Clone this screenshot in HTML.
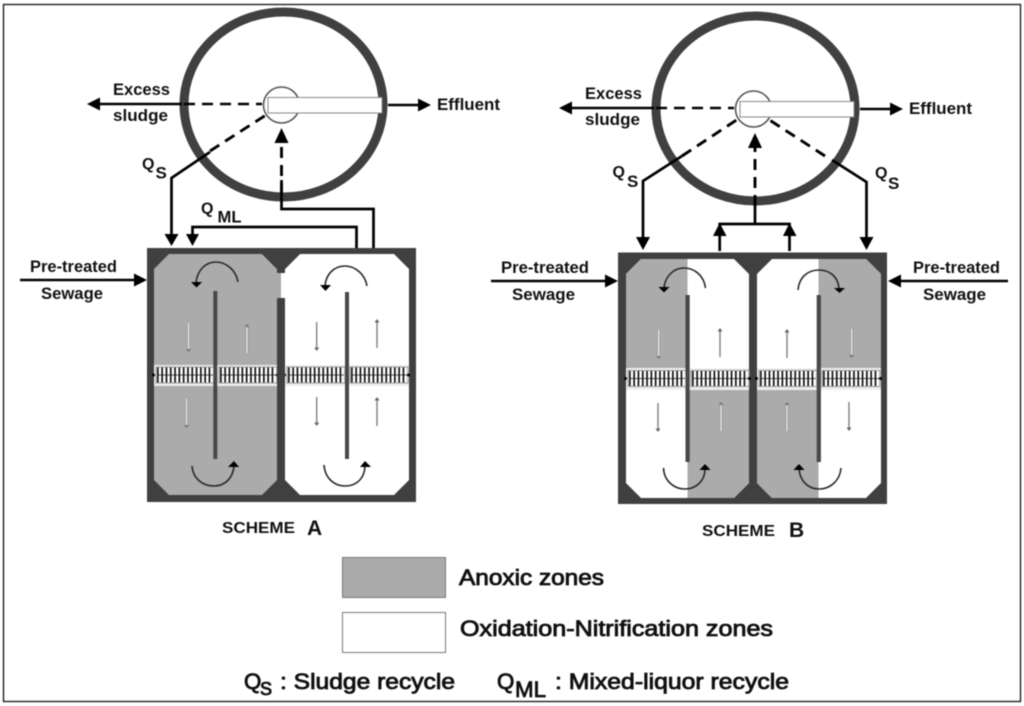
<!DOCTYPE html>
<html>
<head>
<meta charset="utf-8">
<style>
html,body{margin:0;padding:0;background:#fff;width:1024px;height:706px;overflow:hidden}
svg{display:block;filter:blur(.5px)}
text{font-family:"Liberation Sans",sans-serif;font-weight:bold;fill:#111}
.l{font-size:16.3px}
.q{font-size:16px}
.s{font-size:17px}
.big{font-size:21px}
.sch{font-size:15.5px}
.leg{font-size:22.3px;font-weight:normal;stroke:#111;stroke-width:.85px}
.k{stroke:#000;stroke-width:2.7;fill:none}
.h{stroke:#000;stroke-width:2.5;fill:none}
.d{stroke:#000;stroke-width:2.9;fill:none;stroke-dasharray:11 7}
.dh{stroke:#000;stroke-width:2.5;fill:none;stroke-dasharray:11 7}
.arc{stroke:#2a2a2a;stroke-width:1.6;fill:none}
.tg{stroke:#777;stroke-width:1.3;fill:none}
.tw{stroke:#8e8e8e;stroke-width:2.6;fill:none}
.tw2{stroke:#f2f2f2;stroke-width:1.3;fill:none}
</style>
</head>
<body>
<svg width="1024" height="706" viewBox="0 0 1024 706" xmlns="http://www.w3.org/2000/svg">
<defs>
  <g id="rail">
    <rect x="0" y="-8" width="58" height="16" fill="#fff" stroke="#999" stroke-width="1"/>
    <line x1="1" x2="57" y1="0" y2="0" stroke="#555" stroke-width="1"/>
    <line x1="1" x2="57" y1="0" y2="0" stroke="#111" stroke-width="15" stroke-dasharray="1.7 2.6"/>
  </g>
  <g id="bandset">
    <use href="#rail" x="2"/>
    <use href="#rail" x="65"/>
    <circle cx="-0.5" cy="0" r="1.5" fill="#000"/>
    <circle cx="61.5" cy="0" r="1.5" fill="#000"/>
    <circle cx="123.5" cy="0" r="1.5" fill="#000"/>
  </g>
  <g id="clar">
    <ellipse cx="283.5" cy="104.5" rx="99.5" ry="92.5" fill="#fff" stroke="#404040" stroke-width="9"/>
    <circle cx="281.5" cy="105" r="18" fill="#fff" stroke="#555" stroke-width="1.6"/>
    <rect x="268" y="97.5" width="114" height="15.5" fill="#fff" stroke="#888" stroke-width="1"/>
    <line class="h" x1="95" y1="104" x2="182" y2="104"/>
    <line class="dh" x1="184" y1="104" x2="262" y2="104"/>
    <polygon points="87,104 100,97.5 100,110.5" fill="#000"/>
    <line class="h" x1="388" y1="105" x2="420" y2="105"/>
    <polygon points="431,105 418,98.5 418,111.5" fill="#000"/>
    <text class="l" x="113" y="95" textLength="57" lengthAdjust="spacingAndGlyphs">Excess</text>
    <text class="l" x="113" y="121" textLength="55" lengthAdjust="spacingAndGlyphs">sludge</text>
    <text class="l" x="437" y="110" textLength="63" lengthAdjust="spacingAndGlyphs">Effluent</text>
  </g>
</defs>

<rect x="3.5" y="4.5" width="1017" height="697" fill="#fff" stroke="#222" stroke-width="1.4"/>

<!-- ============ SCHEME A ============ -->
<use href="#clar"/>
<rect x="147" y="248" width="269" height="254" fill="#404040"/>
<polygon points="169,254 262,254 277,269 277,480 262,495 169,495 154,480 154,269" fill="#ababab"/>
<polygon points="300,254 394,254 409,269 409,480 394,495 300,495 285,480 285,269" fill="#fff"/>
<rect x="277" y="273" width="4" height="25" fill="#ababab"/>
<rect x="281" y="273" width="4" height="25" fill="#fff"/>
<polygon points="262,254 300,254 285,269 285,273 277,273 277,269" fill="#404040"/>
<!-- bands -->
<rect x="154" y="365" width="123" height="21" fill="#eee"/>
<rect x="285" y="365" width="124" height="21" fill="#eee"/>
<use href="#bandset" transform="translate(154,375)"/>
<use href="#bandset" transform="translate(285,375)"/>
<rect x="213.3" y="291" width="4" height="168" fill="#484848"/>
<rect x="345" y="292" width="4" height="167" fill="#484848"/>
<rect x="277" y="298" width="8" height="190" fill="#404040"/>
<!-- thin arrows A -->
<g>
  <path class="tw" d="M188.5 323V351M247 325V353M186.5 399V427"/>
  <path class="tw2" d="M188.5 323V351M247 325V353M186.5 399V427"/>
  <path d="M188.5 352l-2.5-3h5zM247 324l-2.5 3h5zM186.5 428l-2.5-3h5z" fill="#777"/>
  <path class="tg" d="M316.7 322V350M377 320V348M316.7 397V425M377 398V426"/>
  <path d="M316.7 351l-2.5-3.5h5zM377 319l-2.5 3.5h5zM316.7 426l-2.5-3.5h5zM377 397l-2.5 3.5h5z" fill="#666"/>
</g>
<!-- curved arrows A -->
<path class="arc" d="M238 282C236 270 226 262 216 262C205 262 197 271 196 283"/>
<polygon points="191,282 202,282 196.5,287.5" fill="#000"/>
<path class="arc" d="M192 466C193 479 203 486 214 486C225 486 233 478 234 466"/>
<polygon points="228,467 239,467 234,461" fill="#000"/>
<path class="arc" d="M367 286C365 274 355 266 345 266C334 266 326 274 325 286"/>
<polygon points="320,285 331,285 325.5,291" fill="#000"/>
<path class="arc" d="M324 465C325 479 335 486 345 486C357 486 365 478 365 465"/>
<polygon points="360,467 371,467 365,461" fill="#000"/>
<!-- connectors A -->
<line class="k" x1="171.5" y1="178" x2="210" y2="152"/>
<line class="d" x1="210" y1="151" x2="266" y2="115"/>
<path class="k" d="M171.5 177V236"/>
<polygon points="164.5,234 178.5,234 171.5,246" fill="#000"/>
<path class="k" d="M356.5 248V227H192.5V236"/>
<polygon points="186,234 199,234 192.5,246" fill="#000"/>
<path class="k" d="M373.5 248V209H281.5V180"/>
<line class="d" x1="281.5" y1="194" x2="281.5" y2="140"/>
<polygon points="274.5,143 288.5,143 281.5,128" fill="#000"/>
<!-- labels A -->
<text class="q" x="142" y="169">Q</text>
<text class="s" x="155.5" y="178.5">S</text>
<text class="q" x="201" y="213.5">Q</text>
<text class="s" x="217.5" y="222.5" textLength="24" lengthAdjust="spacingAndGlyphs">ML</text>
<text class="l" x="30" y="272" textLength="87" lengthAdjust="spacingAndGlyphs">Pre-treated</text>
<text class="l" x="41" y="299" textLength="62" lengthAdjust="spacingAndGlyphs">Sewage</text>
<line class="h" x1="20" y1="280" x2="137" y2="280"/>
<polygon points="147,280 134,273.5 134,286.5" fill="#000"/>
<text class="sch" x="222" y="533" textLength="73" lengthAdjust="spacingAndGlyphs">SCHEME</text>
<text x="307" y="535" class="big">A</text>

<!-- ============ SCHEME B ============ -->
<use href="#clar" transform="translate(472,4)"/>
<rect x="618" y="252.5" width="269" height="251.5" fill="#404040"/>
<polygon points="641,259 734,259 749,274 749,483 734,498 641,498 626,483 626,274" fill="#fff"/>
<polygon points="772,259 866,259 881,274 881,483 866,498 772,498 757,483 757,274" fill="#fff"/>
<polygon points="641,259 687.5,259 687.5,368 626,368 626,274" fill="#ababab"/>
<polygon points="687.5,390 749,390 749,483 734,498 687.5,498" fill="#ababab"/>
<polygon points="818.5,259 866,259 881,274 881,368 818.5,368" fill="#ababab"/>
<polygon points="757,390 818.5,390 818.5,498 772,498 757,483" fill="#ababab"/>
<rect x="626" y="368" width="123" height="22" fill="#eee"/>
<rect x="757" y="368" width="124" height="22" fill="#eee"/>
<use href="#bandset" transform="translate(626,378.5)"/>
<use href="#bandset" transform="translate(757,378.5)"/>
<rect x="685.5" y="295" width="4.2" height="167" fill="#484848"/>
<rect x="816.7" y="295" width="4.2" height="167" fill="#484848"/>
<!-- thin arrows B -->
<g>
  <path class="tw" d="M658.7 330V358M851.7 329V357M721 403V431M787 403V431"/>
  <path class="tw2" d="M658.7 330V358M851.7 329V357M721 403V431M787 403V431"/>
  <path d="M658.7 359l-2.5-3h5zM851.7 358l-2.5-3h5zM721 402l-2.5 3h5zM787 402l-2.5 3h5z" fill="#777"/>
  <path class="tg" d="M720 329V357M787 330V358M658 403V431M849 402V430"/>
  <path d="M720 328l-2.5 3.5h5zM787 329l-2.5 3.5h5zM658 432l-2.5-3.5h5zM849 431l-2.5-3.5h5z" fill="#666"/>
</g>
<!-- curved arrows B -->
<path class="arc" d="M705.5 288C704 276 695 268 684 268C673 268 665 277 664 288"/>
<polygon points="658.5,287 669.5,287 664,292.5" fill="#000"/>
<path class="arc" d="M798 290C799 277 808 270 819 270C831 270 838 278 839 288"/>
<polygon points="834,288 845,288 839.5,293" fill="#000"/>
<path class="arc" d="M663.5 468C664 481 674 489 685 489C696 489 705 481 705 469"/>
<polygon points="699.5,470 710.5,470 705,464" fill="#000"/>
<path class="arc" d="M841 468C840 481 830 489 819 489C808 489 800 481 799 469"/>
<polygon points="793.5,470 804.5,470 799,464" fill="#000"/>
<!-- connectors B -->
<line class="k" x1="643" y1="181" x2="682" y2="156"/>
<line class="d" x1="682" y1="156" x2="738" y2="119"/>
<path class="k" d="M643 180V240"/>
<polygon points="636,237 650,237 643,250" fill="#000"/>
<line class="k" x1="866.5" y1="182" x2="832" y2="160"/>
<line class="d" x1="825" y1="156" x2="768" y2="119"/>
<path class="k" d="M866.5 181V240"/>
<polygon points="859.5,237 873.5,237 866.5,250" fill="#000"/>
<path class="k" d="M719.7 251V224H789.5V251"/>
<polygon points="713,236 726.5,236 719.7,223" fill="#000"/>
<polygon points="783,236 796.5,236 789.5,223" fill="#000"/>
<path class="k" d="M755 224V200"/>
<line class="d" x1="755" y1="206" x2="755" y2="146"/>
<polygon points="748,148 762,148 755,133" fill="#000"/>
<!-- labels B -->
<text class="q" x="612.5" y="177">Q</text>
<text class="s" x="627" y="187">S</text>
<text class="q" x="875" y="178">Q</text>
<text class="s" x="888" y="189">S</text>
<text class="l" x="501" y="273" textLength="88" lengthAdjust="spacingAndGlyphs">Pre-treated</text>
<text class="l" x="512" y="300" textLength="63" lengthAdjust="spacingAndGlyphs">Sewage</text>
<line class="h" x1="491" y1="281" x2="608" y2="281"/>
<polygon points="618,281 605,274.5 605,287.5" fill="#000"/>
<text class="l" x="913" y="273" textLength="87" lengthAdjust="spacingAndGlyphs">Pre-treated</text>
<text class="l" x="923" y="300" textLength="63" lengthAdjust="spacingAndGlyphs">Sewage</text>
<line class="h" x1="1008" y1="281" x2="898" y2="281"/>
<polygon points="888,281 901,274.5 901,287.5" fill="#000"/>
<text class="sch" x="702" y="536" textLength="73" lengthAdjust="spacingAndGlyphs">SCHEME</text>
<text x="789" y="537" class="big">B</text>

<!-- ============ LEGEND ============ -->
<rect x="342.5" y="557.5" width="103" height="40" fill="#ababab" stroke="#777" stroke-width="1"/>
<rect x="342.5" y="612.5" width="103" height="40" fill="#fff" stroke="#777" stroke-width="1"/>
<text class="leg" x="459" y="585" textLength="145" lengthAdjust="spacingAndGlyphs">Anoxic zones</text>
<text class="leg" x="460" y="636" textLength="313" lengthAdjust="spacingAndGlyphs">Oxidation-Nitrification zones</text>
<text class="leg" x="244" y="689">Q</text>
<text class="leg" x="260" y="695" style="font-size:18px">S</text>
<text class="leg" x="280" y="689" textLength="175" lengthAdjust="spacingAndGlyphs">: Sludge recycle</text>
<text class="leg" x="497" y="689">Q</text>
<text class="leg" x="515" y="697" textLength="31" lengthAdjust="spacingAndGlyphs">ML</text>
<text class="leg" x="555" y="689" textLength="234" lengthAdjust="spacingAndGlyphs">: Mixed-liquor recycle</text>
</svg>
</body>
</html>
